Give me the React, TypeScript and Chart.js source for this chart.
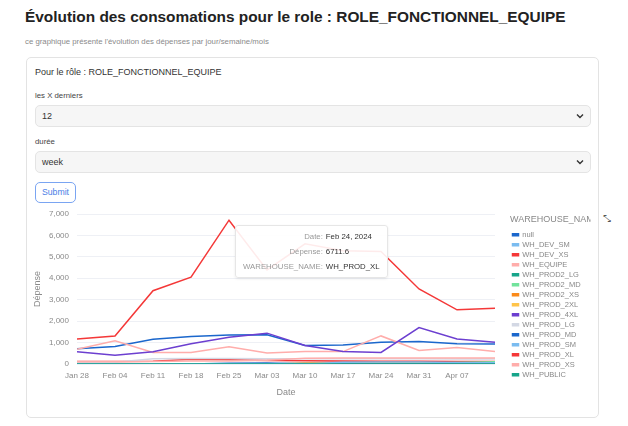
import React, { useEffect, useRef } from 'react';
import { Chart, registerables } from 'chart.js';

Chart.register(...registerables);

// ---- data ----
const weekLabels = ['Jan 28', 'Feb 04', 'Feb 11', 'Feb 18', 'Feb 25', 'Mar 03', 'Mar 10', 'Mar 17', 'Mar 24', 'Mar 31', 'Apr 07', 'Apr 14'];
const tooltipDates = ['Jan 27, 2024', 'Feb 03, 2024', 'Feb 10, 2024', 'Feb 17, 2024', 'Feb 24, 2024', 'Mar 02, 2024', 'Mar 09, 2024', 'Mar 16, 2024', 'Mar 23, 2024', 'Mar 30, 2024', 'Apr 06, 2024', 'Apr 13, 2024'];
const yTicks = [0, 1000, 2000, 3000, 4000, 5000, 6000, 7000];

const seriesNames = ['null', 'WH_DEV_SM', 'WH_DEV_XS', 'WH_EQUIPE', 'WH_PROD2_LG', 'WH_PROD2_MD', 'WH_PROD2_XS', 'WH_PROD_2XL', 'WH_PROD_4XL', 'WH_PROD_LG', 'WH_PROD_MD', 'WH_PROD_SM', 'WH_PROD_XL', 'WH_PROD_XS', 'WH_PUBLIC'];
const seriesColors = ['#1b67cc', '#7bbcf0', '#f43838', '#ffadab', '#17a58a', '#72e39c', '#fa8a1a', '#ffc44a', '#6c3fd0', '#d3d8e4', '#1b67cc', '#7bbcf0', '#f43838', '#ffadab', '#17a58a'];

const nullValues = [710, 820, 1160, 1280, 1350, 1360, 860, 890, 1020, 1050, 940, 930];
const whDevSm = [0, 0, 0, 0, 0, 0, 60, 80, 80, 70, 60, 50];
const whDevXs = [120, 120, 130, 220, 200, 160, 150, 140, 130, 130, 120, 120];
const whEquipe = [690, 1080, 540, 540, 800, 510, 580, 580, 1310, 630, 770, 580];
const whProd2Lg = [10, 10, 10, 10, 10, 10, 10, 10, 10, 10, 10, 10];
const whProd2Md = [0, 0, 0, 0, 0, 0, 0, 0, 20, 40, 70, 100];
const whProd2Xs = [0, 0, 0, 0, 0, 0, 40, 60, 30, 20, 10, 10];
const whProd2xl = [0, 0, 0, 0, 0, 0, 20, 30, 40, 40, 30, 30];
const whProd4xl = [570, 410, 570, 940, 1250, 1440, 860, 580, 540, 1700, 1170, 1020];
const whProdLg = [50, 80, 250, 260, 260, 250, 240, 240, 240, 240, 230, 230];
const whProdMd = [0, 0, 0, 0, 40, 50, 0, 0, 0, 0, 0, 0];
const whProdSm = [0, 0, 0, 0, 0, 0, 0, 80, 90, 90, 70, 60];
const whProdXl = [1170, 1310, 3420, 4050, 6711.6, 4390, 5610, 5280, 5250, 3500, 2530, 2600];
const whProdXs = [100, 100, 120, 140, 140, 180, 270, 275, 275, 275, 275, 275];
const whPublic = [0, 0, 0, 0, 0, 0, 0, 0, 0, 0, 0, 0];

const seriesValues = [nullValues, whDevSm, whDevXs, whEquipe, whProd2Lg, whProd2Md, whProd2Xs, whProd2xl, whProd4xl, whProdLg, whProdMd, whProdSm, whProdXl, whProdXs, whPublic];

const activeSeries = 'WH_PROD_XL';
const activeIndex = 4;

const FONT = '"Liberation Sans", Arial, Helvetica, sans-serif';

function Chevron({ left, top }: { left: number; top: number }) {
  return (
    <svg width="8" height="6" style={{ position: 'absolute', left, top }} viewBox="0 0 8 6">
      <polyline points="1,1.5 4,4.5 7,1.5" fill="none" stroke="#333" strokeWidth="1.4" />
    </svg>
  );
}

export default function App() {
  const canvasRef = useRef<HTMLCanvasElement | null>(null);
  const tipRef = useRef<HTMLDivElement | null>(null);

  useEffect(() => {
    if (!canvasRef.current) return;
    const n = seriesNames.length;
    const datasets = seriesNames.map((name, i) => ({
      label: name,
      data: seriesValues[i],
      borderColor: seriesColors[i],
      backgroundColor: seriesColors[i],
      borderWidth: 1.5,
      pointRadius: 0,
      pointHoverRadius: 0,
      tension: 0,
      order: n - i,
    }));

    const chart = new Chart(canvasRef.current, {
      type: 'line',
      data: { labels: weekLabels, datasets },
      options: {
        animation: false,
        responsive: false,
        maintainAspectRatio: false,
        locale: 'en-US',
        events: [],
        layout: { padding: { top: 9, bottom: 9.6, left: 0, right: 7.4 } },
        scales: {
          x: {
            type: 'category',
            offset: false,
            grid: { display: false, drawTicks: false },
            border: { display: false },
            ticks: {
              color: '#8a8a8a',
              font: { family: FONT, size: 8 },
              padding: 7,
              maxRotation: 0,
              autoSkip: false,
              callback: (_v: any, i: number) => (i === weekLabels.length - 1 ? '' : weekLabels[i]),
            },
            title: { display: true, text: 'Date', color: '#8a8a8a', font: { family: FONT, size: 9 }, padding: { top: 0, bottom: 0 } },
          },
          y: {
            type: 'linear',
            min: yTicks[0],
            max: yTicks[yTicks.length - 1],
            afterBuildTicks: (s: any) => { s.ticks = yTicks.map((v) => ({ value: v })); },
            grid: { color: '#eef0f5', drawTicks: false },
            border: { display: false },
            ticks: { color: '#8a8a8a', font: { family: FONT, size: 8 }, padding: 8 },
            title: { display: true, text: 'Dépense', color: '#8a8a8a', font: { family: FONT, size: 9 }, padding: { top: 4, bottom: 4 } },
            afterFit: (s: any) => { s.width = 49; s.paddingTop = 4.8; s.paddingBottom = 4.8; },
          },
          spacer: {
            type: 'linear',
            position: 'right',
            display: true,
            grid: { display: false, drawTicks: false },
            border: { display: false },
            ticks: { display: false },
            afterFit: (s: any) => { s.width = 15; },
          },
        },
        plugins: {
          legend: {
            position: 'right',
            align: 'start',
            title: { display: true, text: 'WAREHOUSE_NAME', color: '#888', position: 'start', font: { family: FONT, size: 9 }, padding: { top: 1.5, bottom: 2.2 } } as any,
            labels: {
              boxWidth: 6, boxHeight: 2, padding: 2.5, color: '#888', font: { family: FONT, size: 7.5 },
              sort: (a: any, b: any) => a.datasetIndex - b.datasetIndex,
            },
          },
          tooltip: {
            enabled: false,
            external: ({ tooltip }: any) => {
              const el = tipRef.current;
              if (!el) return;
              if (!tooltip || tooltip.opacity === 0 || !tooltip.dataPoints || !tooltip.dataPoints.length) { el.style.display = 'none'; return; }
              const dp = tooltip.dataPoints[0];
              const rows: [string, string][] = [
                ['Date', tooltipDates[dp.dataIndex]],
                ['Dépense', String(dp.raw)],
                ['WAREHOUSE_NAME', dp.dataset.label],
              ];
              el.innerHTML = '<table style="border-collapse:collapse">' + rows.map(([k, v]) =>
                `<tr style="height:15px"><td style="text-align:right;color:#999;padding:0 3px 0 0;white-space:nowrap">${k}:</td><td style="color:#333;padding:0;white-space:nowrap">${v}</td></tr>`).join('') + '</table>';
              el.style.display = 'block';
              el.style.left = tooltip.caretX + 6 + 'px';
              el.style.top = tooltip.caretY + 5 + 'px';
            },
          },
        },
      } as any,
    });

    const dsIndex = seriesNames.indexOf(activeSeries);
    chart.tooltip!.setActiveElements([{ datasetIndex: dsIndex, index: activeIndex }], { x: 0, y: 0 });
    chart.update();

    return () => chart.destroy();
  }, []);

  const abs = (s: React.CSSProperties): React.CSSProperties => ({ position: 'absolute', ...s });

  return (
    <div style={abs({ left: 0, top: 0, width: 628, height: 426, background: '#fff', fontFamily: FONT, overflow: 'hidden' })}>
      <div style={abs({ left: 25, top: 7, fontSize: 15.4, lineHeight: '20px', fontWeight: 700, color: '#222', whiteSpace: 'nowrap' })}>
        Évolution des consomations pour le role : ROLE_FONCTIONNEL_EQUIPE
      </div>
      <div style={abs({ left: 25, top: 37, fontSize: 7.8, lineHeight: '10px', color: '#8a8a8a', whiteSpace: 'nowrap' })}>
        ce graphique présente l'évolution des dépenses par jour/semaine/mois
      </div>
      <div style={abs({ left: 26, top: 57, width: 573, height: 361, border: '1px solid #e3e3e3', borderRadius: 5, boxSizing: 'border-box' })} />
      <div style={abs({ left: 35, top: 66, fontSize: 9, lineHeight: '12px', color: '#333', whiteSpace: 'nowrap' })}>
        Pour le rôle : ROLE_FONCTIONNEL_EQUIPE
      </div>
      <div style={abs({ left: 35, top: 91, fontSize: 7.8, lineHeight: '10px', color: '#444' })}>les X derniers</div>
      <div style={abs({ left: 35, top: 105, width: 556, height: 22, background: '#f6f6f6', border: '1px solid #e4e4e4', borderRadius: 5, boxSizing: 'border-box' })}>
        <div style={abs({ left: 6, top: 0, fontSize: 9, lineHeight: '20px', color: '#333' })}>12</div>
        <Chevron left={540} top={7} />
      </div>
      <div style={abs({ left: 35, top: 137, fontSize: 7.8, lineHeight: '10px', color: '#444' })}>durée</div>
      <div style={abs({ left: 35, top: 151, width: 556, height: 22, background: '#f6f6f6', border: '1px solid #e4e4e4', borderRadius: 5, boxSizing: 'border-box' })}>
        <div style={abs({ left: 6, top: 0, fontSize: 9, lineHeight: '20px', color: '#333' })}>week</div>
        <Chevron left={540} top={7} />
      </div>
      <div style={abs({ left: 35, top: 182, width: 41, height: 21, border: '1px solid #7aa5f2', borderRadius: 5, boxSizing: 'border-box', color: '#4b80e6', fontSize: 8.7, lineHeight: '19px', textAlign: 'center' })}>
        Submit
      </div>
      <div style={abs({ left: 28, top: 205, width: 570, height: 203 })}>
        <canvas ref={canvasRef} width={570} height={203} style={{ width: 570, height: 203, display: 'block' }} />
        <div ref={tipRef} style={{ position: 'absolute', display: 'none', background: 'rgba(255,255,255,0.9)', border: '1px solid #e6e6e6', borderRadius: 3, boxShadow: '0 1px 3px rgba(0,0,0,0.08)', padding: '3px 7px', fontSize: 7.8, lineHeight: '15px', fontFamily: FONT, pointerEvents: 'none' }} />
      </div>
      <div style={abs({ left: 603, top: 213, fontSize: 10, lineHeight: '12px', color: '#555' })}>⤡</div>
    </div>
  );
}
